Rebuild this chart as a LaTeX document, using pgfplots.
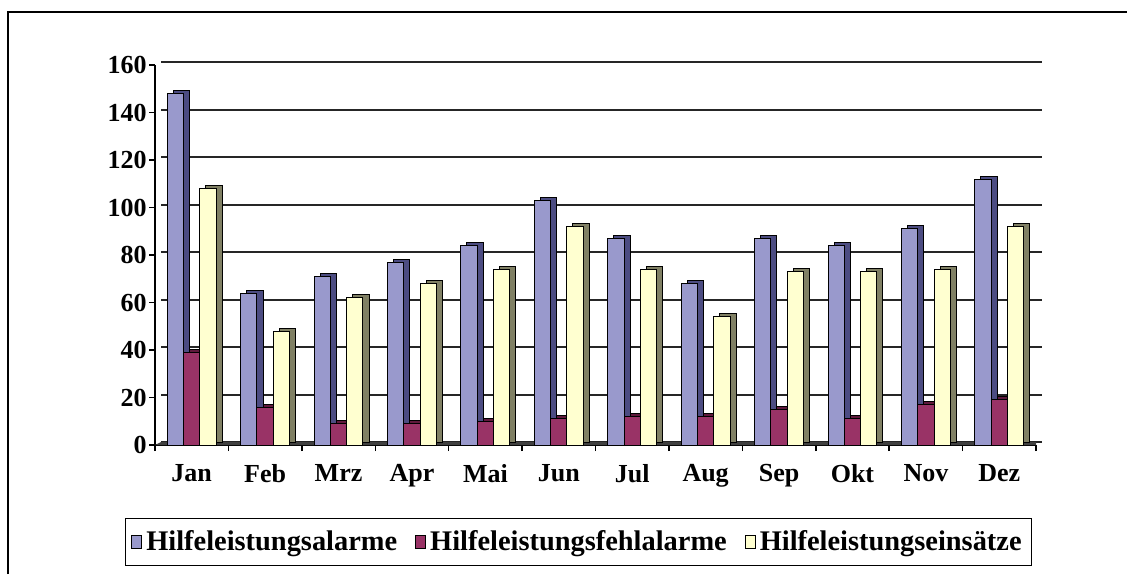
\documentclass[border=0pt]{standalone}
\usepackage{pgfplots}
\pgfplotsset{compat=1.18}
\usepackage{pgfplotstable}
\usepackage{fontspec}
\setmainfont{Liberation Serif}

\definecolor{blueF}{RGB}{153,153,204}
\definecolor{blueS}{RGB}{76,76,130}
\definecolor{redF}{RGB}{153,51,102}
\definecolor{redS}{RGB}{95,25,60}
\definecolor{yelF}{RGB}{255,255,208}
\definecolor{yelS}{RGB}{128,128,100}

% monthly counts
\pgfplotstableread{
x a f e
0 148 39 108
1 64 16 48
2 71 9 62
3 77 9 68
4 84 10 74
5 103 11 92
6 87 12 74
7 68 12 54
8 87 15 73
9 84 11 73
10 91 17 74
11 112 19 92
}\data

\newcommand{\lbl}{\fontsize{13}{15}\selectfont\bfseries}
\newcommand{\leg}{\fontsize{14.2}{16}\selectfont\bfseries}

\begin{document}
\begin{tikzpicture}
\path[use as bounding box] (0pt,0pt) rectangle (563.5pt,-287pt);
\draw[line width=1.2pt] (4pt,-287pt) -- (4pt,-6pt) -- (563.5pt,-6pt);
\begin{axis}[
    at={(77.5pt,-222.5pt)}, anchor=south west,
    scale only axis, width=440.5pt, height=190pt,
    xmin=-0.5, xmax=11.5, ymin=0, ymax=160,
    axis lines*=left,
    axis line style={line width=0.75pt},
    ytick={0,20,...,160},
    xtick={0,...,11},
    xticklabels={Jan,Feb,Mrz,Apr,Mai,Jun,Jul,Aug,Sep,Okt,Nov,Dez},
    minor xtick={-0.5,0.5,...,11.5},
    tick align=outside,
    major tick length=3pt, minor tick length=3pt,
    major x tick style={draw=none},
    minor x tick style={black, line width=0.75pt},
    ytick style={black, line width=0.75pt},
    ymajorgrids=true,
    grid style={black!85, line width=1pt, shift={(3pt,1.5pt)}},
    /pgf/number format/assume math mode=true,
    tick label style={font=\lbl},
    yticklabel style={inner sep=1pt},
    xticklabel style={yshift=-3pt},
    legend columns=3,
    legend style={at={(0.4807,-0.255)}, anchor=center, draw=black,
        line width=0.75pt, font=\leg, inner xsep=3pt, inner ysep=4pt,
        /tikz/every even column/.append style={column sep=7pt}},
    legend image code/.code={\draw[#1, draw=black, line width=0.5pt] (0pt,-3.5pt) rectangle (5pt,3pt);},
]
\fill[gray!50!black] (axis cs:-0.5,0) -- (axis cs:11.5,0) -- ([shift={(3pt,1.5pt)}]axis cs:11.5,0) -- ([shift={(3pt,1.5pt)}]axis cs:-0.5,0) -- cycle;

\addplot[ybar, bar width=0.222, bar shift=-0.140, fill=blueS, draw=black, line width=0.5pt, yshift=1.5pt, forget plot] table[x=x,y=a]{\data};
\addplot[ybar, bar width=0.222, bar shift=-0.222, fill=blueF, draw=black, line width=0.5pt] table[x=x,y=a]{\data};
\addlegendentry{Hilfeleistungsalarme}
\addplot[ybar, bar width=0.222, bar shift=0.082, fill=redS, draw=black, line width=0.5pt, yshift=1.5pt, forget plot] table[x=x,y=f]{\data};
\addplot[ybar, bar width=0.222, bar shift=0, fill=redF, draw=black, line width=0.5pt] table[x=x,y=f]{\data};
\addlegendentry{Hilfeleistungsfehlalarme}
\addplot[ybar, bar width=0.222, bar shift=0.304, fill=yelS, draw=black, line width=0.5pt, yshift=1.5pt, forget plot] table[x=x,y=e]{\data};
\addplot[ybar, bar width=0.222, bar shift=0.222, fill=yelF, draw=black, line width=0.5pt] table[x=x,y=e]{\data};
\addlegendentry{Hilfeleistungseinsätze}
\end{axis}
\end{tikzpicture}
\end{document}
